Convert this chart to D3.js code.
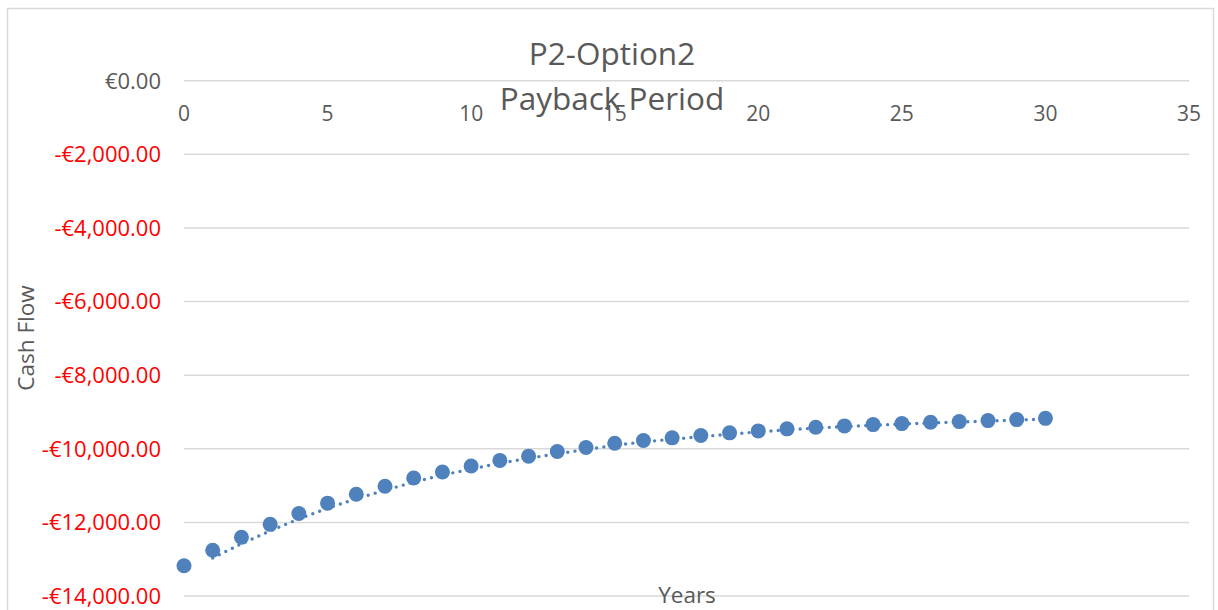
<!DOCTYPE html>
<html>
<head>
<meta charset="utf-8">
<script src="https://cdn.jsdelivr.net/npm/d3@7"></script>
<style>
  html, body { margin: 0; padding: 0; background: #fff; }
  svg { display: block; }
  text { font-family: "Open Sans", "Noto Sans", sans-serif; }
</style>
</head>
<body>
<svg id="chart" width="1218" height="610"></svg>
<script>
// Cumulative cash flow by year
const years = d3.range(0, 31);
const cashFlow = [
  -13180, -12757, -12405, -12054, -11757, -11478, -11235, -11019, -10795, -10632,
  -10470, -10316, -10200, -10073, -9965, -9849, -9776, -9703, -9641, -9568,
  -9514, -9459, -9416, -9378, -9343, -9316, -9281, -9262, -9235, -9208, -9173
];
const xTicks = [0, 5, 10, 15, 20, 25, 30, 35];
const yTicks = [0, -2000, -4000, -6000, -8000, -10000, -12000, -14000];
const titleLines = ["P2-Option2", "Payback Period"];

const svg = d3.select("#chart");
const gray = "#595959";
const gridColor = "#d9d9d9";
const blue = "#4F81BD";

// chart area frame
svg.append("rect")
  .attr("x", 7.5).attr("y", 8.5)
  .attr("width", 1206).attr("height", 620)
  .attr("fill", "#fff")
  .attr("stroke", gridColor).attr("stroke-width", 1.5);

const x = d3.scaleLinear().domain([0, 35]).range([184, 1189]);
const y = d3.scaleLinear().domain([-14000, 0]).range([596, 80.7]);

// horizontal gridlines
svg.append("g").selectAll("line").data(yTicks).join("line")
  .attr("x1", x(0)).attr("x2", x(35))
  .attr("y1", d => y(d)).attr("y2", d => y(d))
  .attr("stroke", gridColor).attr("stroke-width", 1.5);

// y axis labels: negatives in red
const money = d3.format(",.2f");
svg.append("g").selectAll("text").data(yTicks).join("text")
  .attr("x", 161).attr("y", d => y(d))
  .attr("dy", "0.36em")
  .attr("text-anchor", "end")
  .attr("font-size", 22)
  .attr("fill", d => d < 0 ? "#FF0000" : gray)
  .text(d => (d < 0 ? "-€" : "€") + money(Math.abs(d)));

// x axis labels sit under the zero line
svg.append("g").selectAll("text").data(xTicks).join("text")
  .attr("x", d => x(d)).attr("y", 113)
  .attr("dy", "0.36em")
  .attr("text-anchor", "middle")
  .attr("font-size", 21)
  .attr("fill", gray)
  .text(d => d);

// axis titles
svg.append("text")
  .attr("transform", `translate(34,338) rotate(-90)`)
  .attr("text-anchor", "middle")
  .attr("font-size", 22.5)
  .attr("fill", gray)
  .text("Cash Flow");

svg.append("text")
  .attr("x", 687).attr("y", 603)
  .attr("text-anchor", "middle")
  .attr("font-size", 22.5)
  .attr("fill", gray)
  .text("Years");

// 2-period moving average trendline
const pts = years.map((yr, i) => ({ yr, v: cashFlow[i] }));
const ma = pts.slice(1).map((p, i) => ({ yr: p.yr, v: (p.v + pts[i].v) / 2 }));
svg.append("path")
  .datum(ma)
  .attr("fill", "none")
  .attr("stroke", blue)
  .attr("stroke-width", 3.4)
  .attr("stroke-linecap", "round")
  .attr("stroke-dasharray", "0 7.3")
  .attr("d", d3.line().x(d => x(d.yr)).y(d => y(d.v)));

// markers
svg.append("g").selectAll("circle").data(pts).join("circle")
  .attr("cx", d => x(d.yr)).attr("cy", d => y(d.v))
  .attr("r", 7.5)
  .attr("fill", blue);

// title
svg.append("g").selectAll("text").data(titleLines).join("text")
  .attr("x", 612).attr("y", (d, i) => 65 + i * 45)
  .attr("text-anchor", "middle")
  .attr("font-size", 31.5)
  .attr("fill", gray)
  .text(d => d);
</script>
</body>
</html>
